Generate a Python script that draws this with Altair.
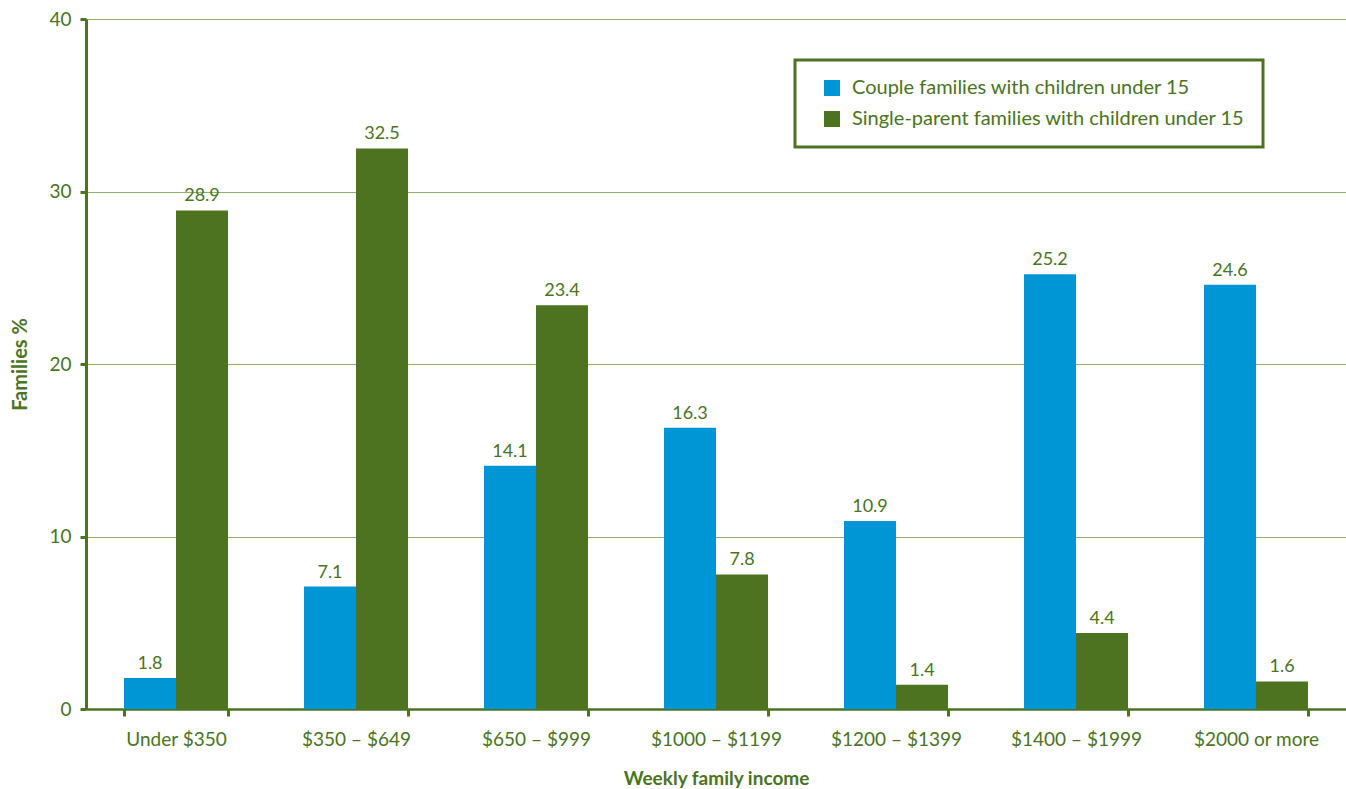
import altair as alt
import pandas as pd

categories = ["Under $350", "$350 – $649", "$650 – $999", "$1000 – $1199",
              "$1200 – $1399", "$1400 – $1999", "$2000 or more"]
couple = [1.8, 7.1, 14.1, 16.3, 10.9, 25.2, 24.6]
single = [28.9, 32.5, 23.4, 7.8, 1.4, 4.4, 1.6]
series = ["Couple families with children under 15",
          "Single-parent families with children under 15"]

rows = []
for c, a, b in zip(categories, couple, single):
    rows.append({"cat": c, "series": series[0], "value": a})
    rows.append({"cat": c, "series": series[1], "value": b})
df = pd.DataFrame(rows)

GREEN = "#4e7320"
BLUE = "#0096d6"
TXT = "#4a7322"
FONT = "Lato"

xenc = alt.X("cat:N", sort=categories, title="Weekly family income",
             scale=alt.Scale(paddingInner=0.4222, paddingOuter=0.2111),
             axis=alt.Axis(labelAngle=0, labelFontSize=19, labelColor=TXT, labelFont=FONT,
                           labelPadding=14, tickSize=7, tickColor=GREEN, tickWidth=3,
                           tickBand="extent", domainColor=GREEN, domainWidth=2.5,
                           titleFontSize=19, titleFont=FONT, titleColor=TXT,
                           titleFontWeight="bold", titlePadding=20, grid=False))
yenc = alt.Y("value:Q", title="Families %",
             scale=alt.Scale(domain=[0, 40]),
             axis=alt.Axis(values=[0, 10, 20, 30, 40], labelFontSize=19, labelColor=TXT,
                           labelFont=FONT, labelPadding=9, tickSize=6, tickColor=GREEN,
                           tickWidth=3, domainColor=GREEN, domainWidth=3,
                           gridColor="#8fae6a", gridWidth=1,
                           titleFontSize=20, titleFont=FONT, titleColor=TXT,
                           titleFontWeight="bold", titlePadding=18))

base = alt.Chart(df).encode(
    x=xenc,
    xOffset=alt.XOffset("series:N", sort=series),
)

bars = base.mark_bar().encode(
    y=yenc,
    color=alt.Color("series:N", sort=series,
                    scale=alt.Scale(domain=series, range=[BLUE, GREEN]),
                    legend=alt.Legend(title=None, orient="none", legendX=709, legendY=41,
                                      symbolType="square", symbolSize=256,
                                      symbolStrokeWidth=0, labelFontSize=20,
                                      labelFont=FONT, labelColor=TXT, labelLimit=600,
                                      rowPadding=11, padding=18, offset=0,
                                      strokeColor=GREEN, fillColor="white",
                                      symbolOffset=9, labelOffset=10)),
)

labels = base.mark_text(dy=-14, fontSize=18, font=FONT, color=TXT).encode(
    y="value:Q",
    text=alt.Text("value:Q", format=".1f"),
)

chart = (bars + labels).properties(
    width=1260, height=690,
    autosize=alt.AutoSizeParams(type="none"),
    padding={"left": 86, "top": 19, "right": 0, "bottom": 80},
).configure_view(stroke=None).configure_legend(strokeWidth=3)

chart.save("out.html", embed_options={"renderer": "svg", "actions": False})
